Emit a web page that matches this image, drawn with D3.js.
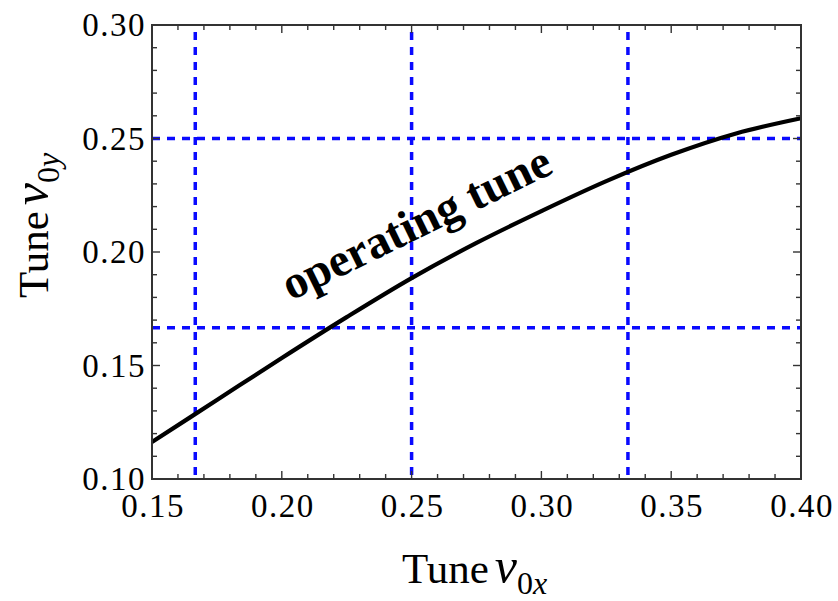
<!DOCTYPE html>
<html><head><meta charset="utf-8">
<script src="https://cdn.jsdelivr.net/npm/d3@7"></script>
<style>body{margin:0;background:#fff}</style>
</head><body><svg id="c" width="838" height="601"></svg>
<script>
// ---- data ----
const tuneX = [0.15, 0.175, 0.20, 0.225, 0.25, 0.275, 0.30, 0.325, 0.35, 0.375, 0.40];
const tuneY = [0.1163, 0.1348, 0.1533, 0.1713, 0.1885, 0.2040, 0.2180, 0.2312, 0.2428, 0.2522, 0.2589];
const xTicks = [0.15, 0.20, 0.25, 0.30, 0.35, 0.40];
const yTicks = [0.10, 0.15, 0.20, 0.25, 0.30];
const resonanceX = [1/6, 1/4, 1/3];
const resonanceY = [1/6, 1/4];
const curveLabel = "operating tune";

// ---- layout ----
const L = 152, R = 801, T = 25, B = 479;
const svg = d3.select("#c");
const x = d3.scaleLinear().domain([0.15, 0.40]).range([L, R]);
const y = d3.scaleLinear().domain([0.10, 0.30]).range([B, T]);
const serif = "'Liberation Serif','Times New Roman',serif";
const blue = "#0a0aff";

// dashed resonance lines
svg.append("g").selectAll("line").data(resonanceX).join("line")
  .attr("x1", d => x(d)).attr("x2", d => x(d))
  .attr("y1", T).attr("y2", B)
  .attr("stroke", blue).attr("stroke-width", 3.5)
  .attr("stroke-dasharray", "8,7").attr("stroke-dashoffset", 8);
svg.append("g").selectAll("line").data(resonanceY).join("line")
  .attr("x1", L).attr("x2", R)
  .attr("y1", d => y(d)).attr("y2", d => y(d))
  .attr("stroke", blue).attr("stroke-width", 3.5)
  .attr("stroke-dasharray", "8,7");

// curve
const pts = tuneX.map((v, i) => [v, tuneY[i]]);
const line = d3.line().x(d => x(d[0])).y(d => y(d[1])).curve(d3.curveCatmullRom.alpha(0.5));
svg.append("path").datum(pts).attr("d", line)
  .attr("fill", "none").attr("stroke", "#000").attr("stroke-width", 4.2);

// ticks (inward, mirrored)
const xMinor = d3.range(0.15, 0.4001, 0.01);
const yMinor = d3.range(0.10, 0.3001, 0.01);
const isMajor = v => Math.abs(Math.round(v / 0.05) * 0.05 - v) < 1e-6;
const tg = svg.append("g").attr("stroke", "#333").attr("stroke-width", 1.4);
xMinor.forEach(v => {
  const len = isMajor(v) ? 8 : 5;
  tg.append("line").attr("x1", x(v)).attr("x2", x(v)).attr("y1", B).attr("y2", B - len);
  tg.append("line").attr("x1", x(v)).attr("x2", x(v)).attr("y1", T).attr("y2", T + len);
});
yMinor.forEach(v => {
  const len = isMajor(v) ? 8 : 5;
  tg.append("line").attr("y1", y(v)).attr("y2", y(v)).attr("x1", L).attr("x2", L + len);
  tg.append("line").attr("y1", y(v)).attr("y2", y(v)).attr("x1", R).attr("x2", R - len);
});

// frame
svg.append("rect").attr("x", L).attr("y", T).attr("width", R - L).attr("height", B - T)
  .attr("fill", "none").attr("stroke", "#333").attr("stroke-width", 2);

// tick labels
const fmt = d3.format(".2f");
svg.append("g").selectAll("text").data(xTicks).join("text")
  .attr("x", d => x(d) + 1).attr("y", 517)
  .attr("text-anchor", "middle")
  .attr("font-family", serif).attr("font-size", 33).attr("letter-spacing", 1.5)
  .attr("fill", "#000").text(d => fmt(d));
svg.append("g").selectAll("text").data(yTicks).join("text")
  .attr("x", 146).attr("y", d => y(d) + 11)
  .attr("text-anchor", "end")
  .attr("font-family", serif).attr("font-size", 33).attr("letter-spacing", 1.5)
  .attr("fill", "#000").text(d => fmt(d));

// axis titles
function title(g, sub) {
  const t = g.append("text").attr("font-family", serif).attr("fill", "#000");
  t.append("tspan").attr("font-size", 43).text("Tune");
  t.append("tspan").attr("font-size", 50).attr("font-style", "italic").attr("dx", 6).text("\u03bd");
  t.append("tspan").attr("font-size", 32).attr("dy", 11).text("0");
  t.append("tspan").attr("font-size", 32).attr("font-style", "italic").text(sub);
}
title(svg.append("g").attr("transform", "translate(402,583)"), "x");
title(svg.append("g").attr("transform", "translate(48,298) rotate(-90)"), "y");

// curve label
svg.append("text")
  .attr("transform", `translate(${x(0.2035)},${y(0.1784)}) rotate(-26)`)
  .attr("font-family", serif).attr("font-weight", "bold").attr("font-size", 47)
  .attr("fill", "#000").text(curveLabel);
</script>
</body></html>
